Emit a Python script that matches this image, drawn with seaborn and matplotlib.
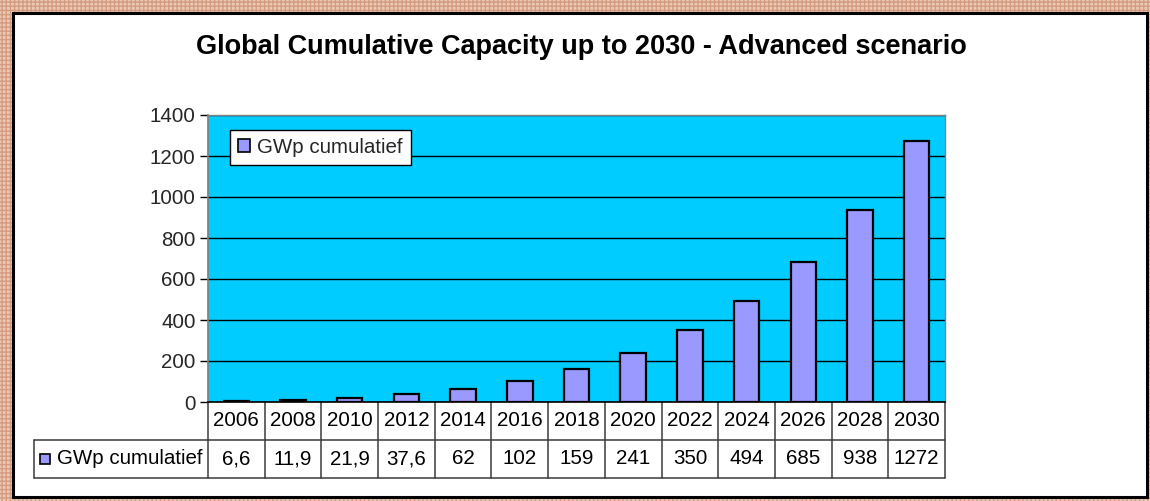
import matplotlib
matplotlib.use("Agg")
import matplotlib.pyplot as plt
import matplotlib.patches as mpatches
import seaborn as sns
import pandas as pd

years = ["2006", "2008", "2010", "2012", "2014", "2016", "2018",
         "2020", "2022", "2024", "2026", "2028", "2030"]
gwp = [6.6, 11.9, 21.9, 37.6, 62, 102, 159, 241, 350, 494, 685, 938, 1272]
series_name = "GWp cumulatief"
title = "Global Cumulative Capacity up to 2030 - Advanced scenario"
y_ticks = [0, 200, 400, 600, 800, 1000, 1200, 1400]

BAR = "#9999ff"
PLOT_BG = "#00ccff"
LINE = "#3a3a3a"
FS = 14.8

sns.set_theme(style="white")
plt.rcParams["font.family"] = ["Liberation Sans", "DejaVu Sans"]

W, H = 1150, 501
fig = plt.figure(figsize=(W / 100, H / 100), dpi=100)

# stippled outer border and white inner panel
bg = fig.add_axes([0, 0, 1, 1])
bg.set_xlim(0, W)
bg.set_ylim(H, 0)
bg.axis("off")
bg.add_patch(mpatches.Rectangle((0, 0), W, H, facecolor="#ecc9b6",
                                edgecolor="#d39c80", hatch="++++", lw=0))
bg.add_patch(mpatches.Rectangle((13, 13), 1134, 484, facecolor="white",
                                edgecolor="black", lw=2.2))

fig.text(581 / W, 1 - 47 / H, title, ha="center", va="center",
         fontsize=19.5, fontweight="bold", color="black")

left, right, top, bottom = 208, 945, 115, 402
ax = fig.add_axes([left / W, 1 - bottom / H, (right - left) / W, (bottom - top) / H])
ax.set_facecolor(PLOT_BG)

df = pd.DataFrame({"year": years, "value": gwp})
sns.barplot(data=df, x="year", y="value", color=BAR, edgecolor="black",
            linewidth=1.6, width=0.45, saturation=1, ax=ax, label=series_name,
            zorder=3)

ax.set_xlim(-0.5, len(years) - 0.5)
ax.set_ylim(0, 1400)
ax.set_yticks(y_ticks)
ax.set_yticklabels([str(t) for t in y_ticks], fontsize=FS)
ax.yaxis.grid(True, color="black", lw=1.0, zorder=1)
ax.set_axisbelow(True)
ax.tick_params(axis="y", left=True, length=6, width=1, color="black", pad=3)
ax.set_xticks([])
ax.set_xlabel("")
ax.set_ylabel("")
for s in ["top", "right"]:
    ax.spines[s].set_color("#808080")
    ax.spines[s].set_linewidth(1)
ax.spines["left"].set_color("#808080")
ax.spines["bottom"].set_color("black")
ax.spines["bottom"].set_linewidth(1.2)

leg = ax.legend(loc="upper left", bbox_to_anchor=(0.030, 0.948), borderaxespad=0,
                frameon=True, fancybox=False, framealpha=1, edgecolor="black",
                fontsize=FS, handlelength=0.6, handleheight=0.6,
                handletextpad=0.35, borderpad=0.38)
leg.get_frame().set_linewidth(1)
for h in leg.legend_handles:
    h.set_edgecolor("black")
    h.set_linewidth(1.2)

# data table under the plot, columns aligned with the bars
n = len(years)
ph = bottom - top
row_h = 38 / ph
tbl_left = (34 - left) / (right - left)
tr = ax.transAxes
kw = dict(transform=tr, clip_on=False, color=LINE, lw=1.1)
# horizontal lines
ax.plot([0, 1], [-row_h, -row_h], **kw)
ax.plot([tbl_left, 0], [-row_h, -row_h], **kw)
ax.plot([tbl_left, 1], [-2 * row_h, -2 * row_h], **kw)
# vertical lines
for i in range(n + 1):
    ax.plot([i / n, i / n], [0, -2 * row_h], **kw)
ax.plot([tbl_left, tbl_left], [-row_h, -2 * row_h], **kw)


def fmt(v):
    return str(int(v)) if float(v).is_integer() else f"{v}".replace(".", ",")


for i, (yr, v) in enumerate(zip(years, gwp)):
    cx = (i + 0.5) / n
    ax.text(cx, -0.5 * row_h, yr, transform=tr, ha="center", va="center",
            fontsize=FS, color="black")
    ax.text(cx, -1.5 * row_h, fmt(v), transform=tr, ha="center", va="center",
            fontsize=FS, color="black")

# series key in the table's first column
sq = 10
ax.add_patch(mpatches.Rectangle(((40 - left) / (right - left), -1.5 * row_h - (sq / 2) / ph),
                                sq / (right - left), sq / ph, transform=tr,
                                clip_on=False, facecolor=BAR, edgecolor="black", lw=1.2))
ax.text((57 - left) / (right - left), -1.5 * row_h, series_name, transform=tr,
        ha="left", va="center", fontsize=FS, color="black")

fig.savefig("out.png", dpi=100)
